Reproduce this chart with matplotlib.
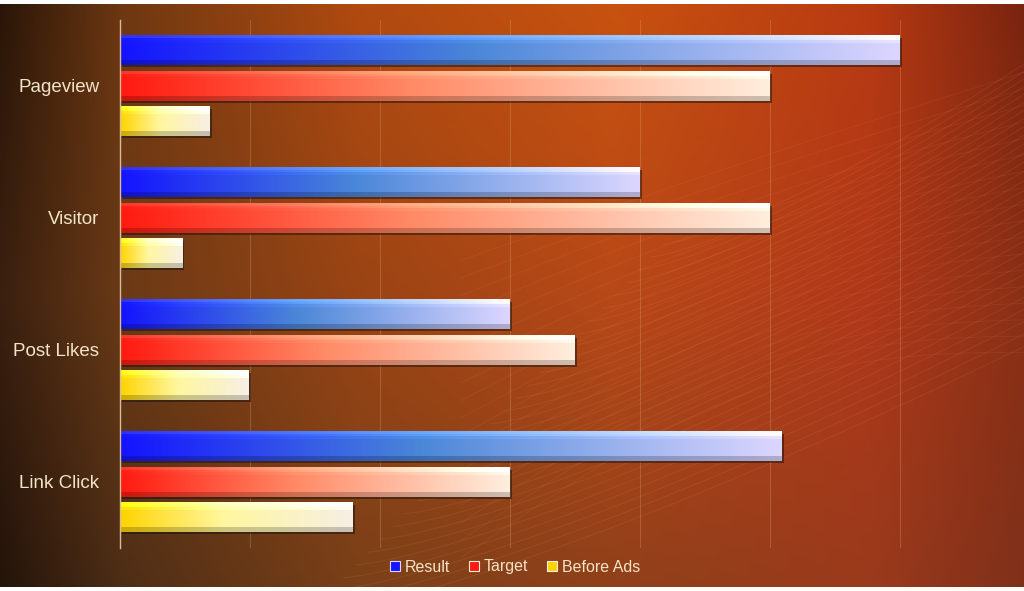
import numpy as np
import matplotlib
matplotlib.use('Agg')
from matplotlib import pyplot as plt
from matplotlib import patheffects as pe
from matplotlib.patches import Patch

categories = ['Pageview', 'Visitor', 'Post Likes', 'Link Click']
series = ['Result', 'Target', 'Before Ads']
result = [6.0, 4.0, 3.0, 5.09]
target = [5.0, 5.0, 3.5, 3.0]
before_ads = [0.69, 0.48, 0.99, 1.79]

# left, middle, right colours of each bar gradient
grad_colors = {
    'Result': ['#1414ff', '#4a86d8', '#dcd6ff'],
    'Target': ['#ff1a10', '#ff8a66', '#ffeedd'],
    'Before Ads': ['#ffd400', '#fff7a0', '#f7efe4'],
}
TXT = '#f3e4c6'

plt.rcParams['font.family'] = ['Liberation Sans', 'DejaVu Sans']


def hex2rgb(h):
    return np.array(matplotlib.colors.to_rgb(h))


def row_interp(xs, stops, cols):
    cols = np.array([hex2rgb(c) for c in cols])
    return np.stack([np.interp(xs, stops, cols[:, i]) for i in range(3)], axis=-1)


def background(ax):
    nx, ny = 400, 240
    xs = np.linspace(0, 1, nx)
    stops = [0.0, 0.12, 0.35, 0.6, 0.85, 1.0]
    top = row_interp(xs, stops, ['#2a1608', '#6e3812', '#b04a10', '#c8520f', '#b83a12', '#7a2410'])
    mid = row_interp(xs, stops, ['#3a2010', '#6a3a16', '#9a4414', '#b84818', '#b0381a', '#8a3016'])
    bot = row_interp(xs, stops, ['#24140a', '#4e2e16', '#7a4018', '#90401a', '#9a3a1c', '#80301a'])
    t = np.linspace(0, 1, ny)[:, None, None]
    img = np.where(t < 0.5, top[None] * (1 - 2 * t) + mid[None] * (2 * t),
                   mid[None] * (2 - 2 * t) + bot[None] * (2 * t - 1))
    ax.imshow(np.clip(img, 0, 1), extent=(0, 1, 0, 1), aspect='auto', origin='upper')
    # faint strands running up to the right
    u = np.linspace(0, 1, 200)
    for k in range(30):
        x = 0.30 + 0.012 * k + 0.8 * u
        y = -0.05 + 0.022 * k + (0.55 + 0.012 * k) * u ** 1.3
        ax.plot(x, y, color='#f2a868', lw=0.8, alpha=0.10)
    for k in range(18):
        x = 0.45 + 0.6 * u
        y = 0.05 + 0.03 * k + 0.35 * u + 0.12 * np.sin(np.pi * u) * (1 - k / 18)
        ax.plot(x, y, color='#f5b878', lw=0.7, alpha=0.08)
    ax.set_xlim(0, 1)
    ax.set_ylim(0, 1)
    ax.axis('off')


def bar_image(colors, nx=200, ny=30):
    xs = np.linspace(0, 1, nx)
    row = row_interp(xs, [0, 0.45, 1], colors)
    v = np.linspace(0, 1, ny)
    shade = np.ones(ny)
    shade[v < 0.15] = 1.18
    shade[(v >= 0.15) & (v < 0.25)] = 1.06
    shade[v > 0.85] = 0.8
    img = row[None, :, :] * shade[:, None, None]
    img[v < 0.08] = img[v < 0.08] * 0.9 + 0.1
    return np.clip(img, 0, 1)


fig = plt.figure(figsize=(10.24, 5.91), dpi=100, facecolor='white')
bg = fig.add_axes([0, 4 / 591, 1, 583 / 591], zorder=0)
background(bg)

ax = fig.add_axes([120 / 1024, 1 - 548 / 591, 904 / 1024, 528 / 591], zorder=1)
ax.patch.set_alpha(0)

y = np.arange(len(categories))
off = 0.267
h = 0.22
for i, (name, vals) in enumerate(zip(series, [result, target, before_ads])):
    bars = ax.barh(y + (i - 1) * off, vals, height=h, color='#4a3a30', zorder=3,
                   path_effects=[pe.SimplePatchShadow(offset=(1.5, -1.5), alpha=0.5), pe.Normal()])
    img = bar_image(grad_colors[name])
    for b in bars:
        x0, y0, w, hh = b.get_x(), b.get_y(), b.get_width(), b.get_height()
        ax.imshow(img, extent=(x0, x0 + w, y0 + hh, y0), aspect='auto', zorder=4,
                  interpolation='bilinear')

ax.set_xlim(0, 904 / 130)
ax.set_ylim(len(categories) - 0.5, -0.5)
ax.set_xticks(np.arange(0, 7))
ax.set_xticklabels([])
ax.set_yticks(y)
ax.set_yticklabels(categories, color=TXT, fontsize=13.5)
ax.tick_params(length=0, pad=15)
ax.grid(axis='x', color='#e8b888', alpha=0.25, lw=0.8, zorder=1)
for s in ['top', 'right', 'bottom']:
    ax.spines[s].set_visible(False)
ax.spines['left'].set_color('#d8bc98')
ax.spines['left'].set_linewidth(1.0)
ax.spines['left'].set_zorder(5)

handles = [Patch(facecolor=grad_colors[s][0], edgecolor=grad_colors[s][2], lw=0.8) for s in series]
fig.legend(handles, series, loc='center', bbox_to_anchor=(515 / 1024, 1 - 567 / 591),
           ncol=3, frameon=False, fontsize=11.5, labelcolor=TXT,
           handlelength=0.6, handleheight=0.6, handletextpad=0.3, columnspacing=1.2)

fig.savefig('out.png', dpi=100, facecolor='white')
